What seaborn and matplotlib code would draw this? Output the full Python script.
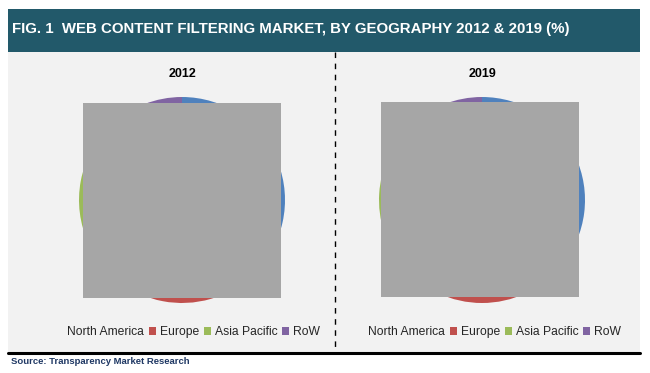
import matplotlib
matplotlib.use("Agg")
import matplotlib.pyplot as plt
from matplotlib.patches import Rectangle, Patch
from matplotlib.lines import Line2D
import seaborn as sns

# ---- data ----
regions = ["North America", "Europe", "Asia Pacific", "RoW"]
years = ["2012", "2019"]
share_2012 = [38, 30, 20, 12]
share_2019 = [36, 28, 24, 12]
colors = ["#4F81BD", "#C0504D", "#9BBB59", "#8064A2"]
title = "FIG. 1  WEB CONTENT FILTERING MARKET, BY GEOGRAPHY 2012 & 2019 (%)"
source = "Source: Transparency Market Research"

sns.set_theme(style="white")
plt.rcParams["font.family"] = ["Liberation Sans", "DejaVu Sans"]
palette = sns.color_palette(colors)

W, H = 650, 373
fig = plt.figure(figsize=(W / 100, H / 100), dpi=100)
fig.patch.set_facecolor("white")

def fx(x):
    return x / W

def fy(y):
    return 1 - y / H

# background panel
fig.add_artist(Rectangle((fx(8), fy(352)), fx(640) - fx(8), fy(52) - fy(352),
                         transform=fig.transFigure, facecolor="#F2F2F2",
                         edgecolor="none", zorder=0))
# title bar
fig.add_artist(Rectangle((fx(8), fy(52)), fx(640) - fx(8), fy(9) - fy(52),
                         transform=fig.transFigure, facecolor="#22596A",
                         edgecolor="none", zorder=0))
fig.text(fx(12), fy(29), title, color="white", fontsize=10.8, fontweight="bold",
         ha="left", va="center")
# bottom line
fig.add_artist(Line2D([fx(8), fx(640)], [fy(353), fy(353)], transform=fig.transFigure,
                      color="black", linewidth=2.2, zorder=1))
# dashed divider
fig.add_artist(Line2D([fx(335), fx(335)], [fy(52), fy(352)], transform=fig.transFigure,
                      color="black", linewidth=1.0, linestyle=(0, (4, 4)), zorder=1))
fig.text(fx(11), fy(362), source, color="#1F3864", fontsize=6.8, fontweight="bold",
         ha="left", va="center")

R = 103
centers = [(182, 200), (482, 200)]
boxes = [(83, 103, 281, 298), (381, 102, 579, 297)]
legend_x = [188, 489]

for yr, vals, (cx, cy), box, lx in zip(years, [share_2012, share_2019], centers, boxes, legend_x):
    ax = fig.add_axes([fx(cx - R), fy(cy + R), (2 * R) / W, (2 * R) / H])
    ax.pie(vals, colors=palette, startangle=90, counterclock=False,
           wedgeprops=dict(linewidth=0))
    ax.set_xlim(-1, 1)
    ax.set_ylim(-1, 1)
    ax.set_aspect("equal")
    ax.axis("off")
    ax.patch.set_alpha(0)
    fig.text(fx(cx), fy(74), yr, fontsize=9, fontweight="bold", ha="center",
             va="center", color="black")
    x0, y0, x1, y1 = box
    fig.add_artist(Rectangle((fx(x0), fy(y1)), fx(x1) - fx(x0), fy(y0) - fy(y1),
                             transform=fig.transFigure, facecolor="#A6A6A6",
                             edgecolor="none", zorder=5))
    handles = [Patch(facecolor=c, edgecolor="none") for c in palette]
    leg = fig.legend(handles, regions, loc="center", bbox_to_anchor=(fx(lx), fy(332)),
                     ncol=4, frameon=False, fontsize=8.7, handlelength=0.6,
                     handleheight=0.6, handletextpad=0.3, columnspacing=0.4,
                     borderaxespad=0, borderpad=0)
    leg.legend_handles[0].set_visible(False)
    leg.set_zorder(6)

fig.savefig("out.png", dpi=100, facecolor="white")
